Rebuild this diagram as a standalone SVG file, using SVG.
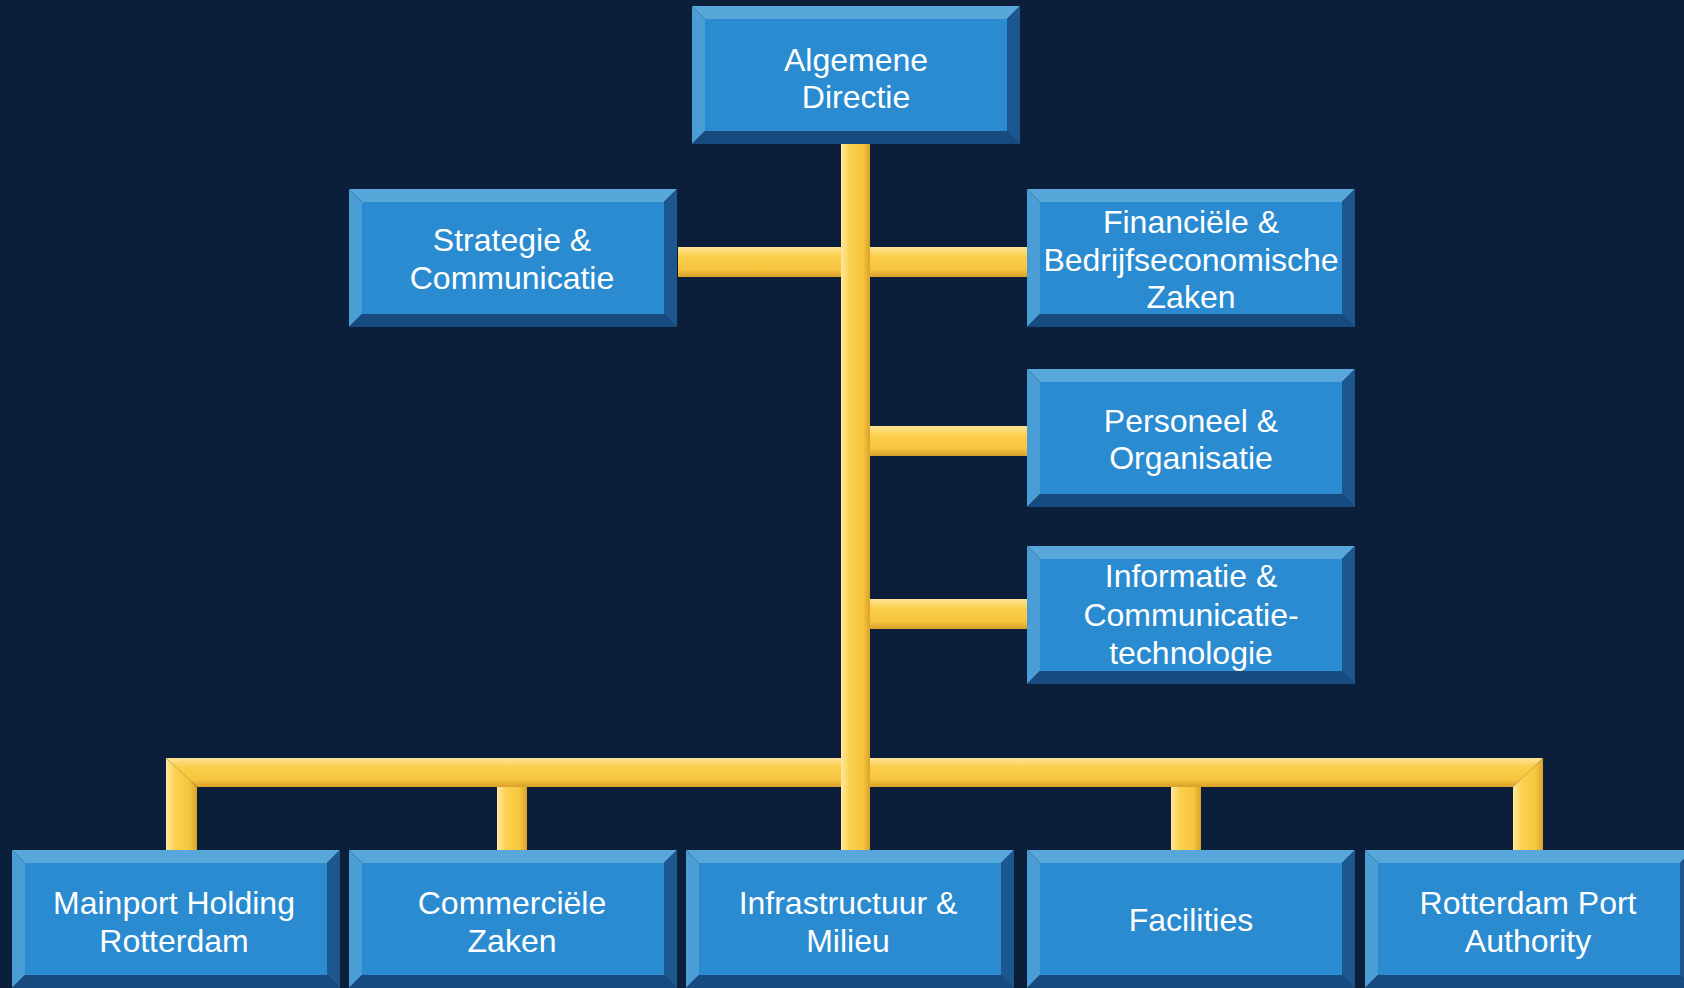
<svg xmlns="http://www.w3.org/2000/svg" xmlns:xlink="http://www.w3.org/1999/xlink" width="1684" height="988" viewBox="0 0 1684 988">
<defs>
<linearGradient id="gv" x1="0" y1="0" x2="1" y2="0">
<stop offset="0" stop-color="#FFE7A0"/><stop offset="0.3" stop-color="#FCD04E"/><stop offset="0.75" stop-color="#F7C63F"/><stop offset="1" stop-color="#D9A22A"/>
</linearGradient>
<linearGradient id="gh" x1="0" y1="0" x2="0" y2="1">
<stop offset="0" stop-color="#FFE39A"/><stop offset="0.3" stop-color="#FBCF4C"/><stop offset="0.75" stop-color="#F6C43E"/><stop offset="1" stop-color="#D8A02A"/>
</linearGradient>
<g id="box">
<polygon points="0,0 328,0 315,13 13,13" fill="#58A7DB"/>
<polygon points="0,0 13,13 13,125 0,138" fill="#4B9DD5"/>
<polygon points="0,138 13,125 315,125 328,138" fill="#174A7E"/>
<polygon points="328,0 328,138 315,125 315,13" fill="#1C5790"/>
<rect x="13" y="13" width="302" height="112" fill="#2A8BD0"/>
</g>
</defs>
<style>
text{font-family:"Liberation Sans",Arial,sans-serif;font-size:32px;fill:#FFFFFF;text-anchor:middle}
.v{fill:url(#gv)}
.h{fill:url(#gh)}
</style>
<rect width="1684" height="988" fill="#0B1E3A"/>
<g id="connectors">
<rect class="h" x="678" y="247" width="349" height="30"/>
<rect class="h" x="856" y="426" width="171" height="30"/>
<rect class="h" x="856" y="599" width="171" height="30"/>
<polygon class="h" points="166,758 1543,758 1513,787 197,787"/>
<rect class="v" x="841" y="144" width="29" height="706"/>
<polygon class="v" points="166,758 197,787 197,850 166,850"/>
<rect class="v" x="497" y="787" width="30" height="63"/>
<rect class="v" x="1171" y="787" width="30" height="63"/>
<polygon class="v" points="1543,758 1543,850 1513,850 1513,787"/>
</g>
<g id="n-algemene"><use xlink:href="#box" x="692" y="6"/><text x="856" y="71">Algemene</text><text x="856" y="108">Directie</text></g>
<g id="n-strategie"><use xlink:href="#box" x="349" y="189"/><text x="512" y="251">Strategie &amp;</text><text x="512" y="289">Communicatie</text></g>
<g id="n-financiele"><use xlink:href="#box" x="1027" y="189"/><text x="1191" y="233">Financiële &amp;</text><text x="1191" y="271">Bedrijfseconomische</text><text x="1191" y="308">Zaken</text></g>
<g id="n-personeel"><use xlink:href="#box" x="1027" y="369"/><text x="1191" y="432">Personeel &amp;</text><text x="1191" y="469">Organisatie</text></g>
<g id="n-informatie"><use xlink:href="#box" x="1027" y="546"/><text x="1191" y="587">Informatie &amp;</text><text x="1191" y="626">Communicatie-</text><text x="1191" y="664">technologie</text></g>
<g id="n-mainport"><use xlink:href="#box" x="12" y="850"/><text x="174" y="914">Mainport Holding</text><text x="174" y="952">Rotterdam</text></g>
<g id="n-commerciele"><use xlink:href="#box" x="349" y="850"/><text x="512" y="914">Commerciële</text><text x="512" y="952">Zaken</text></g>
<g id="n-infrastructuur"><use xlink:href="#box" x="686" y="850"/><text x="848" y="914">Infrastructuur &amp;</text><text x="848" y="952">Milieu</text></g>
<g id="n-facilities"><use xlink:href="#box" x="1027" y="850"/><text x="1191" y="931">Facilities</text></g>
<g id="n-rpa"><use xlink:href="#box" x="1365" y="850"/><text x="1528" y="914">Rotterdam Port</text><text x="1528" y="952">Authority</text></g>
</svg>
